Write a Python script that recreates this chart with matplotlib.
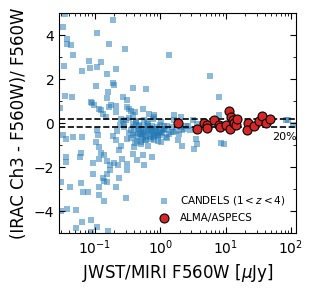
import numpy as np
import matplotlib
matplotlib.use("Agg")
import matplotlib.pyplot as plt
from matplotlib.ticker import AutoMinorLocator, LogLocator, NullFormatter

# CANDELS sources: log10(F560W / uJy) and flux difference ratio
candels_logf = [
    -1.46, -1.49, -1.43, -1.42, -1.37, -1.33, -1.47, -1.20, -1.09, -1.07,
    -0.97, -0.90, -0.96, -0.72, -0.79, -0.54, 0.14, -0.68, -0.81, -0.72,
    -0.70, -0.98, -0.42, -0.21, -1.45, -1.35, 0.76, 0.90, -0.57, -0.82,
    -0.80, -1.53, -1.05, -1.01, -0.94, -0.91, -0.78, -0.68, -0.51, -0.45,
    -0.39, -0.27, -0.17, -0.09, 0.21, 0.32, 0.90, 1.95, 2.03,
    -1.49, -1.44, -1.19, -0.96, -0.95, -0.98, -0.93, -0.91, -1.21, -1.23,
    -1.44, -1.44, -1.02, -0.94, -0.86, -0.81, -0.76, -0.70, -0.64, -0.58,
    -0.51, -0.51, -0.76, -0.82, -1.03, -0.88, -0.86, -0.81, -0.68, -0.63,
    -0.93, -1.38, -1.52, -1.21, -1.18, -1.10, -0.93, -0.86, -0.53, -1.52,
    -1.42, -1.29, -1.19, -1.06, -0.96, -1.29, -1.06, -0.80, -0.24, -0.12,
    -0.26, -0.35, -0.42, -0.63, -0.60, -0.68, -0.50, -0.40, -0.30, -0.19,
    -0.09, 0.01, 0.11, 0.27, 0.34, 0.52, 0.57, 0.55, 0.93, 0.98, 0.34,
    -1.34, -1.06, -0.88, -0.83, -0.75, -0.68, -0.60, -0.55, -0.50, -0.47,
    -0.42, -0.37, -0.32, -0.30, -0.25, -0.19, -0.14, -0.09, -0.04, 0.01,
    0.06, 0.11, 0.16, 0.21, 0.32, 0.42, 0.50, 0.57, 1.92,
    -0.45, -0.42, -0.40, -0.38, -0.36, -0.34, -0.33, -0.31, -0.29, -0.27,
    -0.26, -0.24, -0.22, -0.21, -0.19, -0.18, -0.16, -0.15, -0.13, -0.12,
    -0.10, -0.08, -0.07, -0.05, -0.03, -0.02, 0.00, 0.02, 0.04, 0.06,
    -0.44, -0.41, -0.37, -0.35, -0.32, -0.28, -0.25, -0.23, -0.20, -0.17,
    -0.14, -0.11, -0.09, -0.06, -0.04, 0.03, 0.08, 0.13, 0.18, 0.24,
    0.28, 0.36, 0.40, 0.46, -0.55, -0.52, -0.48, -0.62, -0.66, -0.72,
    -0.39, -0.30, -0.21, -0.11, -0.01, 0.09, 0.19, 0.29, -0.47, -0.57,
]
candels_ratio = [
    4.97, 4.36, 3.80, 3.60, 3.56, 3.10, 2.58, 2.36, 2.80, 2.50,
    2.55, 2.77, 4.10, 4.67, 3.58, 3.35, 3.08, 2.47, 2.24, 1.82,
    1.71, 1.68, 1.60, 1.53, 1.21, 1.18, 2.12, 1.18, 1.17, 1.15,
    1.41, 0.70, 0.92, 0.80, 0.65, 0.58, 0.73, 0.77, 0.73, 0.53,
    0.50, 0.65, 0.42, 0.27, 0.35, 0.27, 0.35, 0.12, -0.10,
    -0.56, -0.71, -0.64, -0.33, -0.56, -0.86, -1.09, -1.35, -1.35, -1.55,
    -1.55, -1.77, -1.80, -1.62, -1.47, -1.73, -1.92, -1.82, -1.92, -1.65,
    -1.88, -2.12, -2.12, -2.33, -2.30, -2.48, -2.64, -2.68, -2.91, -2.48,
    -2.91, -2.91, -2.68, -2.73, -3.14, -3.14, -3.29, -3.56, -3.39, -4.00,
    -3.89, -3.97, -4.50, -4.39, -4.73, -4.77, -4.95, -4.92, -1.92, -1.55,
    -1.47, -1.70, -1.39, -1.24, -1.02, -0.79, -0.71, -1.09, -0.94, -1.02,
    -0.79, -0.86, -0.68, -0.79, -1.02, -1.17, -0.94, -0.71, -0.89, -0.97, -0.33,
    -0.64, 0.95, 0.42, 0.27, 0.80, 0.50, 0.20, -0.03, 1.03, 0.65,
    0.35, 0.05, -0.26, -0.49, 0.12, -0.11, -0.34, 0.35, -0.56, 0.05,
    -0.26, -0.11, -0.41, 0.12, -0.18, -0.11, 0.12, -0.03, 0.12,
    -0.30, -0.55, -0.20, -0.45, -0.62, -0.35, -0.10, -0.50, -0.25, -0.68,
    -0.40, -0.15, -0.58, -0.32, -0.05, -0.48, -0.22, -0.65, -0.38, -0.12,
    -0.52, -0.28, -0.44, -0.18, -0.60, -0.35, -0.08, -0.42, -0.25, -0.15,
    -0.70, -0.05, 0.10, -0.80, -0.15, -0.60, -0.42, -0.75, 0.05, -0.30,
    -0.72, 0.20, -0.55, -0.25, -0.82, -0.45, -0.30, -0.50, -0.20, -0.35,
    -0.05, -0.25, -0.15, -0.30, -0.20, 0.15, -0.45, -0.10, -0.35, -0.60,
    -0.90, -0.85, -0.78, -0.65, -0.55, -0.62, -0.40, -0.48, 0.25, 0.10,
]

# ALMA/ASPECS sources
aspecs_flux = [1.9, 3.7, 4.7, 5.2, 5.2, 6.7, 8.0, 8.1, 10.0, 11.2, 12.0,
               11.8, 12.9, 13.5, 14.5, 15.1, 22.0, 21.4, 27.0, 33.0, 35.5,
               42.0, 48.0]
aspecs_ratio = [0.00, -0.26, 0.02, -0.08, -0.23, 0.12, -0.08, -0.18, -0.08,
                0.55, 0.27, -0.26, 0.12, 0.02, -0.08, 0.20, 0.00, -0.33,
                -0.15, 0.08, 0.32, 0.00, 0.17]

candels_flux = np.power(10.0, candels_logf)

fig = plt.figure(figsize=(3.13, 2.91), dpi=100)
ax = fig.add_axes([0.189, 0.199, 0.757, 0.756])

ax.scatter(candels_flux, candels_ratio, marker="s", s=20, color="#1f77b4",
           alpha=0.5, linewidths=0, label=r"CANDELS ($1<z<4$)")
ax.scatter(aspecs_flux, aspecs_ratio, marker="o", s=42, color="#d62728",
           edgecolors="black", linewidths=0.8, label="ALMA/ASPECS", zorder=3)

ax.axhline(0.2, color="black", ls="--", lw=1.2)
ax.axhline(-0.2, color="black", ls="--", lw=1.2)
ax.text(80, -0.4, "20%", fontsize=8, ha="center", va="top")

ax.set_xscale("log")
ax.set_xlim(0.0285, 120)
ax.set_ylim(-5, 5)
ax.set_yticks([-4, -2, 0, 2, 4])
ax.yaxis.set_minor_locator(AutoMinorLocator(2))
ax.xaxis.set_minor_locator(LogLocator(base=10, subs=np.arange(2, 10), numticks=20))
ax.xaxis.set_minor_formatter(NullFormatter())
ax.tick_params(which="both", direction="in", top=True, right=True, labelsize=10)
ax.tick_params(which="major", length=4)
ax.tick_params(which="minor", length=2)

ax.set_xlabel(r"JWST/MIRI F560W [$\mu$Jy]", fontsize=12)
ax.set_ylabel("(IRAC Ch3 - F560W)/ F560W", fontsize=12)

ax.legend(loc="lower right", frameon=False, fontsize=7.5, handletextpad=0.6,
          borderaxespad=0.6)

fig.savefig("out.png", dpi=100)
